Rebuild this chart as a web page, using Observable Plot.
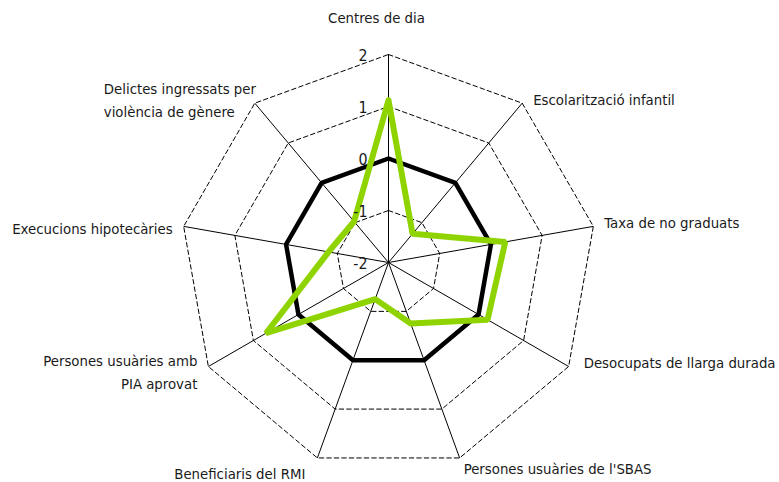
<!DOCTYPE html>
<html><head><meta charset="utf-8">
<script src="https://cdn.jsdelivr.net/npm/d3@7"></script>
<script src="https://cdn.jsdelivr.net/npm/@observablehq/plot@0.6"></script>
<style>body{margin:0;background:#fff}</style>
</head><body><div id="chart"></div>
<script>
const categories = ["Centres de dia","Escolarització infantil","Taxa de no graduats","Desocupats de llarga durada","Persones usuàries de l'SBAS","Beneficiaris del RMI","Persones usuàries amb\nPIA aprovat","Execucions hipotecàries","Delictes ingressats per\nviolència de gènere"];
const referenceValues = [0,0,0,0,0,0,0,0,0];
const districtValues = [1.12,-1.28,0.28,0.2,-0.75,-1.25,0.72,-0.83,-0.97];
const tickValues = [-2,-1,0,1,2];
const gridLevels = [-1,0,1,2];

const W = 779, H = 482;
const n = categories.length;
const minV = -2, maxV = 2;
const ang = i => (i % n) * 2 * Math.PI / n;
const px = (v, i) => (v - minV) * Math.sin(ang(i));
const py = (v, i) => (v - minV) * Math.cos(ang(i));

// label layout: [dx, dy, anchor]
const labelLayout = [
  [-12, -39, "middle"],
  [11, -6, "start"],
  [11, -6, "start"],
  [15, -6, "start"],
  [4, 9, "start"],
  [-12, 14, "end"],
  [-11, 4, "end"],
  [-11, 0, "end"],
  [-151, -5, "start"]
];

const closed = (vals, name) => d3.range(n + 1).map(i => ({series: name, i, v: vals[i % n]}));
const rings = gridLevels.flatMap(l => d3.range(n + 1).map(i => ({level: l, i, v: l})));
const spokes = categories.map((c, i) => ({i}));
const labels = categories.map((c, i) => ({c, i}));

const font = "'DejaVu Sans Condensed', 'Liberation Sans Narrow', sans-serif";
const fs = 14.8;

const chart = Plot.plot({
  width: W, height: H,
  margin: 0,
  x: {domain: [-388/52, (W-388)/52], axis: null},
  y: {domain: [-(H-262)/52, 262/52], axis: null},
  style: {fontFamily: font, fontSize: fs + "px", color: "#1a1a1a"},
  marks: [
    Plot.line(rings, {x: d => px(d.v, d.i), y: d => py(d.v, d.i), z: "level", stroke: "#000", strokeWidth: 1, strokeDasharray: "4.5,3"}),
    Plot.link(spokes, {x1: 0, y1: 0, x2: d => px(maxV, d.i), y2: d => py(maxV, d.i), stroke: "#000", strokeWidth: 1}),
    Plot.line(closed(referenceValues, "ref"), {x: d => px(d.v, d.i), y: d => py(d.v, d.i), stroke: "#000", strokeWidth: 4.5, strokeLinejoin: "miter"}),
    Plot.line(closed(districtValues, "dist"), {x: d => px(d.v, d.i), y: d => py(d.v, d.i), stroke: "#8fd400", strokeWidth: 6, strokeLinejoin: "miter"}),
    Plot.text(tickValues, {x: 0, y: d => d - minV, text: d => String(d), textAnchor: "end", dx: -21, dy: 1, fill: "#1a1a1a", fontSize: fs + 1}),
    ...labels.map(d => Plot.text([d], {
      x: e => px(maxV, e.i), y: e => py(maxV, e.i), text: "c",
      dx: labelLayout[d.i][0], dy: labelLayout[d.i][1], textAnchor: labelLayout[d.i][2],
      fill: "#1a1a1a", fontSize: fs, lineHeight: 1.55
    }))
  ]
});
document.getElementById("chart").appendChild(chart);
</script>
</body></html>
